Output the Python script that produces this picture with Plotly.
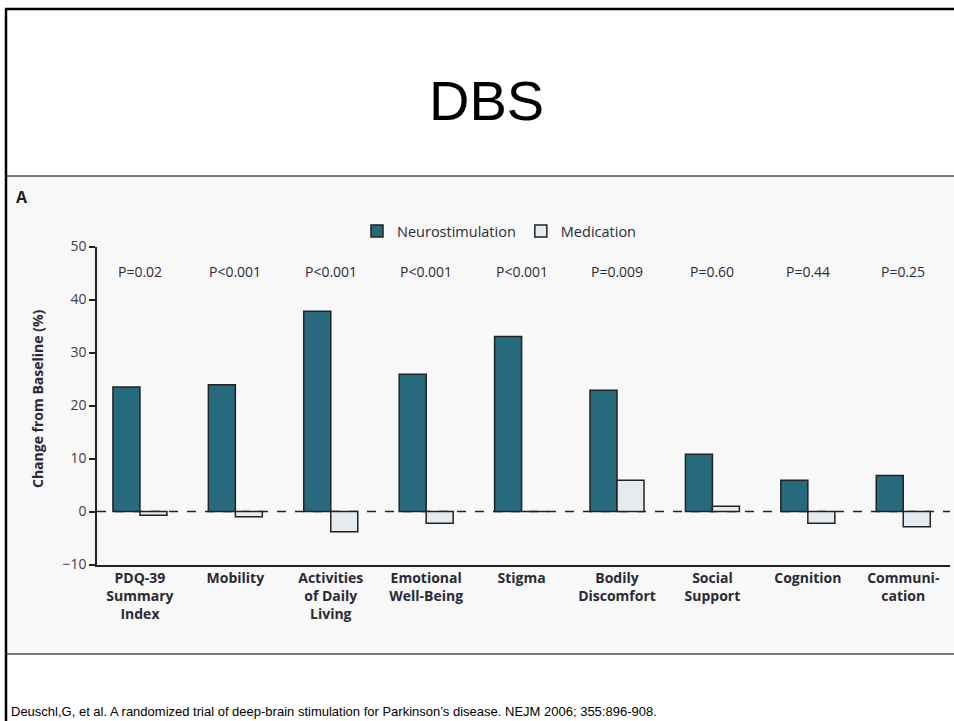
import plotly.graph_objects as go

categories = ["PDQ-39<br>Summary<br>Index", "Mobility", "Activities<br>of Daily<br>Living",
              "Emotional<br>Well-Being", "Stigma", "Bodily<br>Discomfort", "Social<br>Support",
              "Cognition", "Communi-<br>cation"]
neurostimulation = [23.5, 23.9, 37.8, 25.9, 33.0, 22.9, 10.8, 5.9, 6.8]
medication = [-0.7, -1.0, -3.8, -2.2, 0.0, 5.9, 1.0, -2.2, -2.9]
p_values = ["P=0.02", "P<0.001", "P<0.001", "P<0.001", "P<0.001", "P=0.009", "P=0.60", "P=0.44", "P=0.25"]
y_ticks = [-10, 0, 10, 20, 30, 40, 50]

W, H = 954, 721
def px(x):
    return x / W
def py(y):
    return 1 - y / H

idx = list(range(len(categories)))
FONT = "Open Sans"
TXT = "#2a2a36"

fig = go.Figure()
fig.add_trace(go.Bar(x=idx, y=neurostimulation, name="Neurostimulation",
                     marker=dict(color="#276a7e", line=dict(color="#222222", width=1.5))))
fig.add_trace(go.Bar(x=idx, y=medication, name="Medication",
                     marker=dict(color="#e4ecf1", line=dict(color="#222222", width=1.5))))

shapes = [
    dict(type="rect", xref="paper", yref="paper", x0=px(7), x1=1, y0=py(654), y1=py(176),
         fillcolor="#f8f8f8", line=dict(width=0), layer="below"),
    dict(type="line", xref="paper", yref="paper", x0=px(7), x1=1, y0=py(176), y1=py(176),
         line=dict(color="#7a7a7a", width=2), layer="below"),
    dict(type="line", xref="paper", yref="paper", x0=px(7), x1=1, y0=py(654), y1=py(654),
         line=dict(color="#7a7a7a", width=2), layer="below"),
    dict(type="line", xref="paper", yref="paper", x0=px(5), x1=1, y0=py(9), y1=py(9),
         line=dict(color="#000000", width=2.5), layer="above"),
    dict(type="line", xref="paper", yref="paper", x0=px(6), x1=px(6), y0=py(9), y1=0,
         line=dict(color="#000000", width=2.5), layer="above"),
    dict(type="line", xref="paper", yref="y", x0=px(97), x1=px(950), y0=0, y1=0,
         line=dict(color="#222222", width=1.5, dash="dash"), layer="below"),
]

annotations = [
    dict(text="DBS", xref="paper", yref="paper", x=px(486), y=py(101), showarrow=False,
         font=dict(family="Liberation Sans", size=56, color="#000000"), xanchor="center", yanchor="middle"),
    dict(text="Deuschl,G, et al. A randomized trial of deep-brain stimulation for Parkinson’s disease. NEJM 2006; 355:896-908.",
         xref="paper", yref="paper", x=px(9), y=py(711), showarrow=False, xanchor="left", yanchor="middle",
         font=dict(family="Liberation Sans", size=13, color="#000000")),
    dict(text="<b>A</b>", xref="paper", yref="paper", x=px(22), y=py(197), showarrow=False,
         font=dict(family=FONT, size=16, color="#222222"), xanchor="center", yanchor="middle"),
    dict(text="<b>Change from Baseline (%)</b>", xref="paper", yref="paper", x=px(37), y=py(399),
         showarrow=False, textangle=-90, font=dict(family=FONT, size=14, color=TXT),
         xanchor="center", yanchor="middle"),
]
for i, p in zip(idx, p_values):
    annotations.append(dict(text=p, x=i, y=45.2, xref="x", yref="y", showarrow=False,
                            font=dict(family=FONT, size=14, color=TXT), xanchor="center", yanchor="middle"))

fig.update_layout(
    width=W, height=H, margin=dict(l=0, r=0, t=0, b=0, autoexpand=False),
    paper_bgcolor="#ffffff", plot_bgcolor="rgba(0,0,0,0)",
    barmode="group", bargap=0.434, bargroupgap=0,
    font=dict(family=FONT, color=TXT),
    shapes=shapes, annotations=annotations,
    legend=dict(orientation="h", x=px(357), y=py(231), xanchor="left", yanchor="middle",
                font=dict(family=FONT, size=14.5, color=TXT), bgcolor="rgba(0,0,0,0)",
                itemwidth=30, tracegroupgap=0),
    xaxis=dict(domain=[px(97), px(950)], range=[-0.45, 8.49], tickvals=idx,
               ticktext=["<b>" + c + "</b>" for c in categories], tickfont=dict(family=FONT, size=14, color=TXT),
               showline=True, linecolor="#222222", linewidth=1.5, ticks="", showgrid=False, zeroline=False,
               automargin=False),
    yaxis=dict(domain=[py(564.5), py(246.5)], range=[-10, 50], tickvals=y_ticks,
               tickfont=dict(family=FONT, size=14, color="#3c3c4e"),
               showline=True, linecolor="#222222", linewidth=1.5, ticks="outside", ticklen=6,
               tickcolor="#222222", tickwidth=1.5, showgrid=False, zeroline=False, automargin=False),
)

fig.write_html("out.html")
